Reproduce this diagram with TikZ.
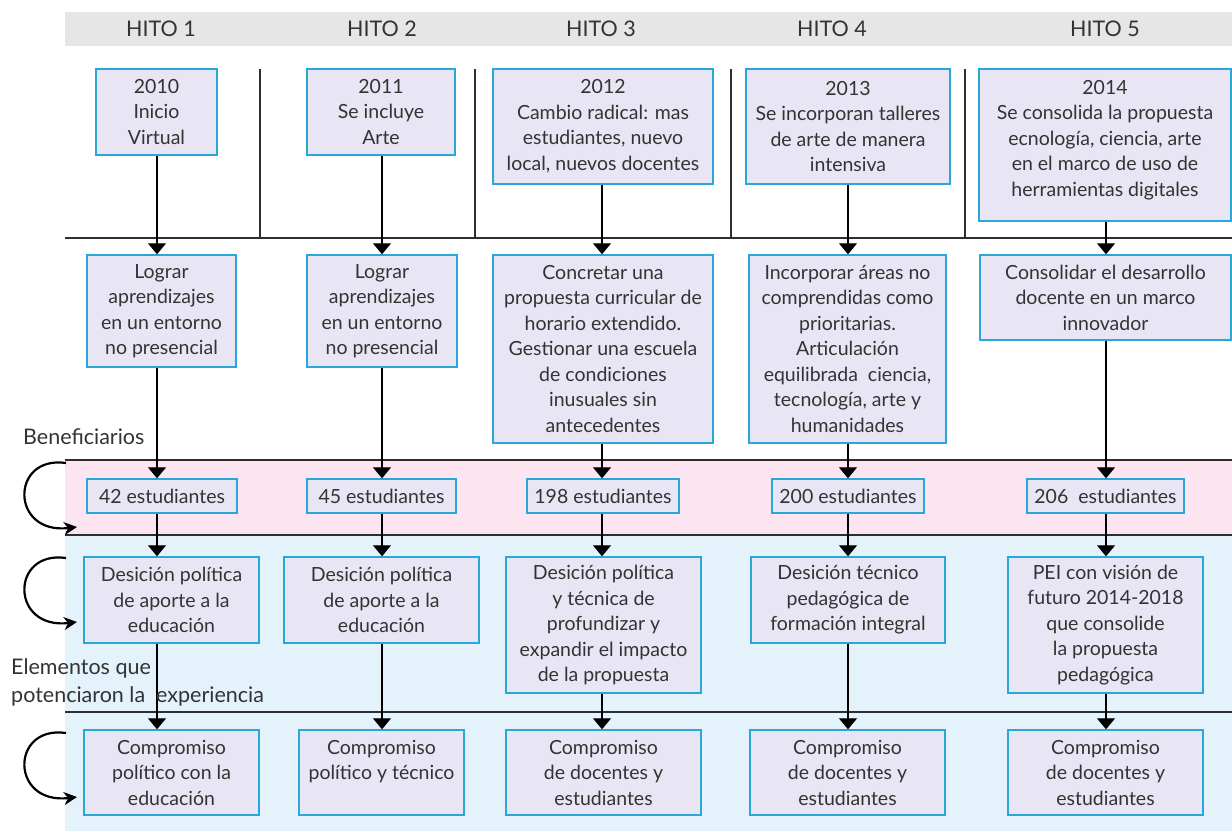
\documentclass[tikz,border=0pt]{standalone}
\usepackage{fontspec}
\setmainfont{Lato}
\usetikzlibrary{arrows.meta}
\definecolor{txt}{HTML}{333333}
\definecolor{boxfill}{HTML}{E8E6F4}
\definecolor{boxline}{HTML}{2AA7D9}
\definecolor{headgray}{HTML}{E6E6E6}
\definecolor{pinkband}{HTML}{FCE4F0}
\definecolor{blueband}{HTML}{E3F2FB}
\definecolor{rule}{HTML}{2E2E2E}
\newcommand\boxfont{\fontsize{19.5}{25.5}\selectfont}
\newcommand\hitofont{\fontsize{21.5}{25}\selectfont}
\newcommand\sidefont{\fontsize{21.5}{28}\selectfont}
\begin{document}
\begin{tikzpicture}[x=1pt,y=-1pt,
  box/.style={draw=boxline, fill=boxfill, line width=1.4pt, align=center,
    inner sep=0pt, text=txt, font=\boxfont},
  hito/.style={text=txt, font=\hitofont, inner sep=0pt},
  lbl/.style={text=txt, font=\sidefont, inner sep=0pt, anchor=base west},
  arr/.style={-{Triangle[width=18pt,length=11pt]}, line width=1.3pt, black},
  loop/.style={-{Stealth[length=13pt,width=13pt,inset=4pt]}, line width=2.2pt, black},
  sep/.style={line width=1.5pt, draw=rule}]
\useasboundingbox (0,0) rectangle (1232,831);
% bands
\fill[headgray] (65,12) rectangle (1232,45.5);
\fill[pinkband] (65,460) rectangle (1232,535);
\fill[blueband] (65,535) rectangle (1232,831);
% header
\node[hito] (h1) at (161,29) {HITO 1};
\node[hito] (h2) at (382,29) {HITO 2};
\node[hito] (h3) at (601,29) {HITO 3};
\node[hito] (h4) at (832,29) {HITO 4};
\node[hito] (h5) at (1105,29) {HITO 5};
% rules
\draw[sep] (260,69) -- (260,238);
\draw[sep] (475,69) -- (475,238);
\draw[sep] (731,69) -- (731,238);
\draw[sep] (965,69) -- (965,238);
\draw[sep] (65,238) -- (1232,238);
\draw[sep] (65,460) -- (1232,460);
\draw[sep] (65,535) -- (1232,535);
\draw[sep] (65,712) -- (1232,712);
% column coordinates
\coordinate (k1) at (157,0);
\coordinate (k2) at (382,0);
\coordinate (k3) at (602,0);
\coordinate (k4) at (848,0);
\coordinate (k5) at (1106,0);
% row 1
\node[box, minimum width=121, minimum height=86] (t1) at (156.5,112) {2010\\Inicio\\Virtual};
\node[box, minimum width=148, minimum height=86] (t2) at (381,112) {2011\\Se incluye\\Arte};
\node[box, minimum width=220, minimum height=115] (t3) at (603,126.5) {2012\\Cambio radical: mas\\estudiantes, nuevo\\local, nuevos docentes};
\node[box, minimum width=204, minimum height=115] (t4) at (848,126.5) {2013\\Se incorporan talleres\\de arte de manera\\intensiva};
\node[box, minimum width=252, minimum height=152] (t5) at (1105,145) {2014\\Se consolida la propuesta\\ecnología, ciencia, arte\\en el marco de uso de\\herramientas digitales\\[-11.5pt]\mbox{}};
% row 2
\node[box, minimum width=149, minimum height=112] (b1) at (161.5,311) {Lograr\\aprendizajes\\en un entorno\\no presencial};
\node[box, minimum width=150, minimum height=112] (b2) at (382,311) {Lograr\\aprendizajes\\en un entorno\\no presencial};
\node[box, minimum width=220, minimum height=188] (b3) at (603,349) {Concretar una\\propuesta curricular de\\horario extendido.\\Gestionar una escuela\\de condiciones\\inusuales sin\\antecedentes};
\node[box, minimum width=197, minimum height=188] (b4) at (847.5,349) {Incorporar áreas no\\comprendidas como\\prioritarias.\\Articulación\\equilibrada\ \ ciencia,\\tecnología, arte y\\humanidades};
\node[box, minimum width=251, minimum height=85] (b5) at (1105.5,297.5) {Consolidar el desarrollo\\docente en un marco\\innovador};
% row 3 students
\node[box, minimum width=150, minimum height=34] (s1) at (162,496) {42 estudiantes};
\node[box, minimum width=149, minimum height=34] (s2) at (381.5,496) {45 estudiantes};
\node[box, minimum width=152, minimum height=34] (s3) at (603,496) {198 estudiantes};
\node[box, minimum width=152, minimum height=34] (s4) at (848,496) {200 estudiantes};
\node[box, minimum width=157, minimum height=34] (s5) at (1105.5,496) {206\ \ estudiantes};
% row 4
\node[box, minimum width=175, minimum height=86] (c1) at (171.5,600) {Desición política\\de aporte a la\\educación};
\node[box, minimum width=195, minimum height=86] (c2) at (381.5,600) {Desición política\\de aporte a la\\educación};
\node[box, minimum width=195, minimum height=136] (c3) at (603.5,625) {Desición política\\y técnica de\\profundizar y\\expandir el impacto\\de la propuesta};
\node[box, minimum width=194, minimum height=86] (c4) at (848,600) {Desición técnico\\pedagógica de\\formación integral};
\node[box, minimum width=195, minimum height=136] (c5) at (1105.5,625) {PEI con visión de\\futuro 2014-2018\\que consolide\\la propuesta\\pedagógica};
% row 5
\node[box, minimum width=175, minimum height=85] (d1) at (171.5,772.5) {Compromiso\\político con la\\educación};
\node[box, minimum width=165, minimum height=85] (d2) at (381.5,772.5) {Compromiso\\político y técnico\\\mbox{}};
\node[box, minimum width=195, minimum height=85] (d3) at (603.5,772.5) {Compromiso\\de docentes y\\estudiantes};
\node[box, minimum width=195, minimum height=85] (d4) at (847.5,772.5) {Compromiso\\de docentes y\\estudiantes};
\node[box, minimum width=195, minimum height=85] (d5) at (1105.5,772.5) {Compromiso\\de docentes y\\estudiantes};
% arrows
\foreach \i in {1,...,5}{
  \draw[arr] (t\i.south -| k\i) -- (b\i.north -| k\i);
  \draw[arr] (b\i.south -| k\i) -- (s\i.north -| k\i);
  \draw[arr] (s\i.south -| k\i) -- (c\i.north -| k\i);
  \draw[arr] (c\i.south -| k\i) -- (d\i.north -| k\i);
}
% side labels
\node[lbl] (ben) at (23,444) {Beneficiarios};
\node[lbl] (ele1) at (11,674) {Elementos que};
\node[lbl] (ele2) at (11,702) {potenciaron la\ \ experiencia};
% loop arrows
\draw[loop] (66,463) .. controls (10,455) and (10,535) .. (77,527);
\draw[loop] (66,558) .. controls (10,550) and (10,630) .. (77,622);
\draw[loop] (66,733) .. controls (10,725) and (10,805) .. (77,797);
\end{tikzpicture}
\end{document}
